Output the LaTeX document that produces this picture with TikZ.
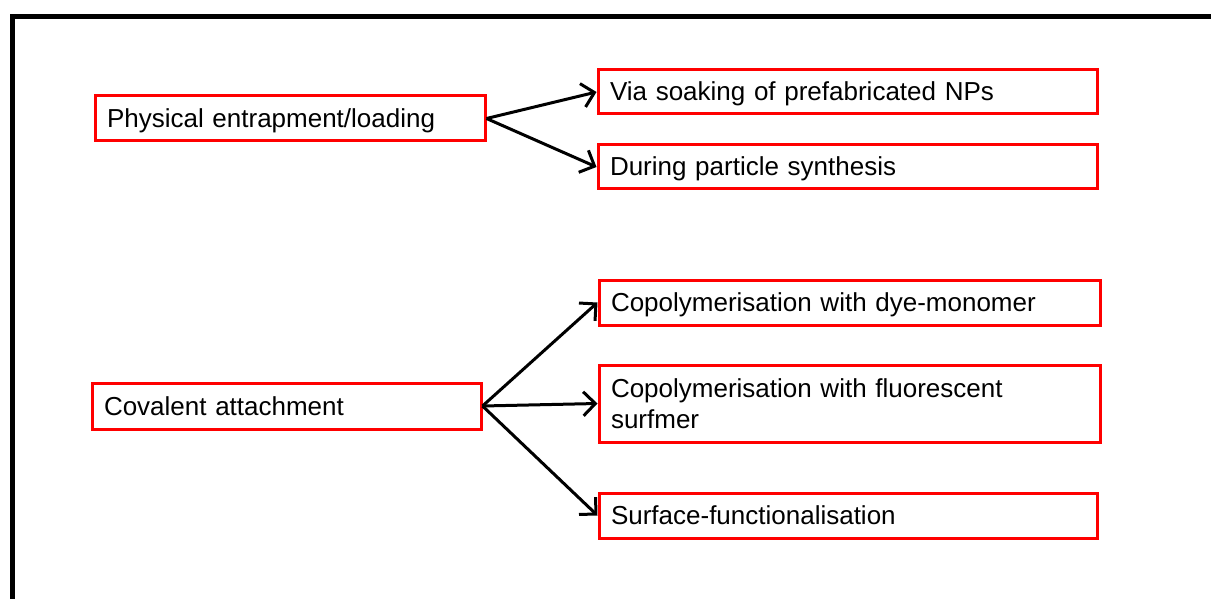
\documentclass[tikz,border=0pt]{standalone}
\usepackage{fontspec}
\setmainfont{Liberation Sans}
\usetikzlibrary{arrows.meta}
\begin{document}
\begin{tikzpicture}[x=1pt,y=-1pt,
  box/.style={draw=red, line width=3pt, rectangle, inner xsep=12pt, inner ysep=0pt,
    align=left, font=\fontsize{26}{31}\selectfont, text=black},
  oneline/.style={text height=22pt, text depth=4pt},
  conn/.style={line width=3pt, -{Straight Barb[length=12pt,width=24pt]}}]
\useasboundingbox (0,0) rectangle (1211,599);
\clip (0,0) rectangle (1211,599);
\fill[white] (0,0) rectangle (1211,599);
\draw[line width=5pt] (12.5,620) -- (12.5,17) -- (1230,17);
\node[box, oneline, minimum width=390pt, minimum height=45pt, text width=366pt] (A) at (290,118.5) {Physical entrapment/loading};
\node[box, oneline, minimum width=499pt, minimum height=44pt, text width=475pt] (B1) at (847.5,92) {Via soaking of prefabricated NPs};
\node[box, oneline, minimum width=499pt, minimum height=44pt, text width=475pt] (B2) at (847.5,167) {During particle synthesis};
\node[box, oneline, minimum width=389pt, minimum height=46pt, text width=365pt] (C) at (286.5,406) {Covalent attachment};
\node[box, oneline, minimum width=501pt, minimum height=45pt, text width=477pt] (D1) at (849.5,302.5) {Copolymerisation with dye-monomer};
\node[box, minimum width=501pt, minimum height=77pt, text width=477pt] (D2) at (849.5,403.5) {Copolymerisation with fluorescent\\surfmer};
\node[box, oneline, minimum width=498pt, minimum height=45pt, text width=474pt] (D3) at (848,515.5) {Surface-functionalisation};
\draw[conn] (A.east) -- (B1.west);
\draw[conn] (A.east) -- (B2.west);
\draw[conn] (C.east) -- (D1.west);
\draw[conn] (C.east) -- (D2.west);
\draw[conn] (C.east) -- (D3.west);
\end{tikzpicture}
\end{document}
